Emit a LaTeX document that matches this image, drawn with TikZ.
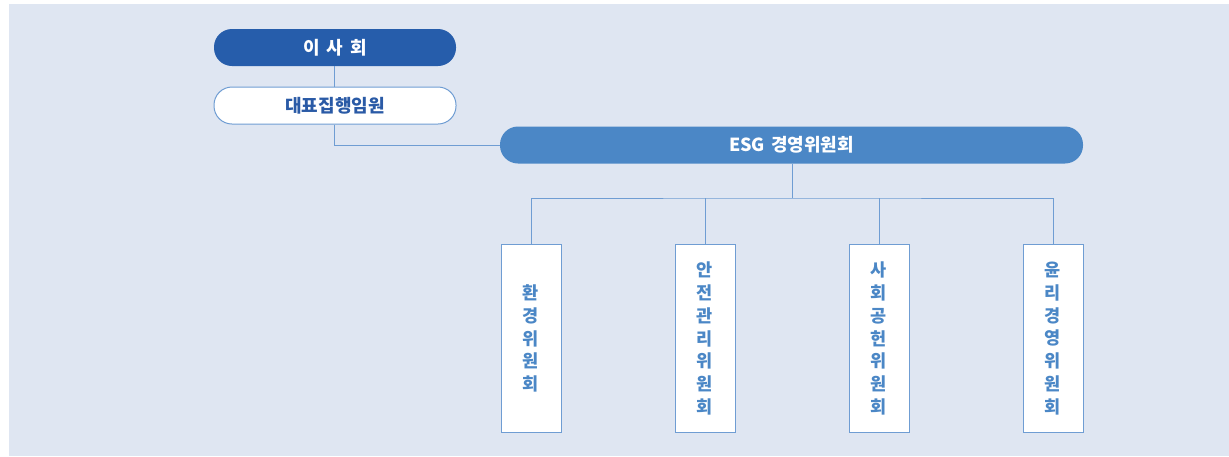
\documentclass[tikz,border=0pt]{standalone}
\usepackage{fontspec}
\newfontfamily\kr{Noto Sans CJK KR}
\definecolor{bgc}{HTML}{DFE6F2}
\definecolor{darkb}{HTML}{265DAB}
\definecolor{midb}{HTML}{4B87C6}
\definecolor{lineb}{HTML}{6F9DD3}
\definecolor{txtd}{HTML}{2A5AA6}
\tikzset{
  pill/.style={rounded corners=18pt, inner sep=0pt, minimum height=37pt, font=\kr\bfseries\fontsize{18}{21}\selectfont},
  committee/.style={draw=lineb, line width=1pt, fill=white, inner sep=0pt, minimum width=60pt, minimum height=188pt, align=center, text=midb, font=\kr\bfseries\fontsize{17.5}{22.7}\selectfont},
  conn/.style={draw=lineb, line width=1pt}
}
\begin{document}
\begin{tikzpicture}[x=1pt,y=-1pt]
\useasboundingbox (0,0) rectangle (1229,456);
\fill[white] (0,0) rectangle (1229,456);
\fill[bgc] (9,4) rectangle (1229,456);
\node[pill, fill=darkb, text=white, minimum width=242pt] (board) at (335,47.5) {이\hspace{7pt}사\hspace{7pt}회};
\node[pill, draw=lineb, line width=1pt, fill=white, text=txtd, minimum width=242pt] (ceo) at (335,105.5) {대표집행임원};
\node[pill, fill=midb, text=white, minimum width=583pt] (esg) at (791.5,145) {ESG\hspace{6pt}경영위원회};
\node[committee, anchor=north] (c1) at (531,244) {환\\경\\위\\원\\회};
\node[committee, anchor=north] (c2) at (705,244) {안\\전\\관\\리\\위\\원\\회};
\node[committee, anchor=north] (c3) at (879,244) {사\\회\\공\\헌\\위\\원\\회};
\node[committee, anchor=north] (c4) at (1053,244) {윤\\리\\경\\영\\위\\원\\회};
\coordinate (bus) at (792,198);
\draw[conn] (board.south -| 334,0) -- (ceo.north -| 334,0);
\draw[conn] (ceo.south -| 334,0) |- (esg.west);
\draw[conn] (esg.south -| bus) -- (bus);
\draw[conn] (c1.north) |- (bus) -| (c4.north);
\draw[conn] (c2.north) -- (c2.north |- bus);
\draw[conn] (c3.north) -- (c3.north |- bus);
\end{tikzpicture}
\end{document}
